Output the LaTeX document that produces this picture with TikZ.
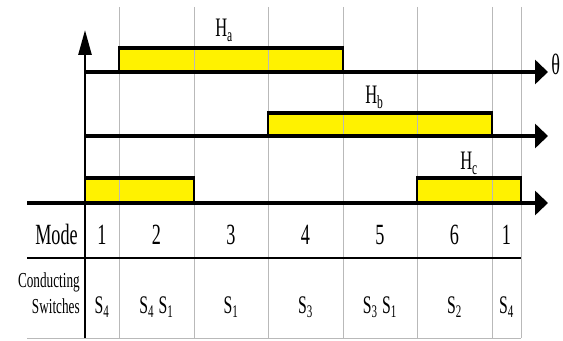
\documentclass[tikz,border=0pt]{standalone}
\usepackage{fontspec}
\setmainfont{Liberation Serif}
\newfontfamily\narrowserif[FakeStretch=0.62]{Liberation Serif}
\usetikzlibrary{arrows.meta}

\begin{document}
\begin{tikzpicture}[x=0.75pt, y=-0.75pt,
	every node/.style={font=\narrowserif, inner sep=0pt},
	gridline/.style={gray!55, line width=0.7pt},
	haxis/.style={line width=3pt, -{Triangle[length=9.75pt, width=18pt]}},
	pulsefill/.style={fill=yellow},
	pulseside/.style={line width=1.5pt},
	pulsetop/.style={line width=3pt},
	hlabel/.style={font={\narrowserif\fontsize{20}{22}\selectfont}, anchor=base west},
	modetext/.style={font={\narrowserif\fontsize{22}{24}\selectfont}, anchor=base},
	swtext/.style={font={\narrowserif\fontsize{19}{21}\selectfont}, anchor=base}]
	\useasboundingbox (0,0) rectangle (563,341);
	% yellow pulses
	\fill[pulsefill] (119,48) rectangle (343,72);
	\fill[pulsefill] (268,113) rectangle (492,136);
	\fill[pulsefill] (85,178) rectangle (194,203);
	\fill[pulsefill] (417,178) rectangle (521,203);
	% mode boundaries
	\foreach \x in {119,194,268,343,417,492,521}
		\draw[gridline] (\x,7) -- (\x,338);
	\draw[gridline] (27,338) -- (521,338);
	% axes
	\draw[line width=2pt, -{Triangle[length=18.75pt, width=9.75pt]}] (85,338) -- (85,30);
	\draw[haxis] (85,72) -- (548,72);
	\draw[haxis] (85,136) -- (548,136);
	\draw[haxis] (27,203) -- (548,203);
	\draw[line width=2pt] (27,258) -- (521,258);
	% pulse edges
	\draw[pulseside] (119,72) -- (119,48) (343,48) -- (343,72);
	\draw[pulsetop] (118,48) -- (344,48);
	\draw[pulseside] (268,136) -- (268,113) (492,113) -- (492,136);
	\draw[pulsetop] (267,113) -- (493,113);
	\draw[pulseside] (194,178) -- (194,203);
	\draw[pulsetop] (85,178) -- (195,178);
	\draw[pulseside] (417,203) -- (417,178) (521,178) -- (521,203);
	\draw[pulsetop] (416,178) -- (522,178);
	% labels
	\node[hlabel] (Ha) at (215,37) {H\textsubscript{a}};
	\node[hlabel] (Hb) at (365,104) {H\textsubscript{b}};
	\node[hlabel] (Hc) at (460,170) {H\textsubscript{c}};
	\node[font={\narrowserif\fontsize{22}{24}\selectfont}, anchor=west] (theta) at (551,64) {θ};
	% table
	\node[modetext, anchor=base east] (mode) at (78,245) {Mode};
	\node[font={\narrowserif\fontsize{16}{19.5}\selectfont}, align=right, anchor=east] (cond) at (80,293) {Conducting\\Switches};
	\foreach \x/\m/\s [count=\i] in {102/1/S\textsubscript{4}, 156.5/2/S\textsubscript{4}\,S\textsubscript{1}, 231/3/S\textsubscript{1}, 305.5/4/S\textsubscript{3}, 380/5/S\textsubscript{3}\,S\textsubscript{1}, 454.5/6/S\textsubscript{2}, 506.5/1/S\textsubscript{4}} {
		\node[modetext] (m\i) at (\x,245) {\m};
		\node[swtext] (s\i) at (\x,314) {\s};
	}
\end{tikzpicture}
\end{document}
